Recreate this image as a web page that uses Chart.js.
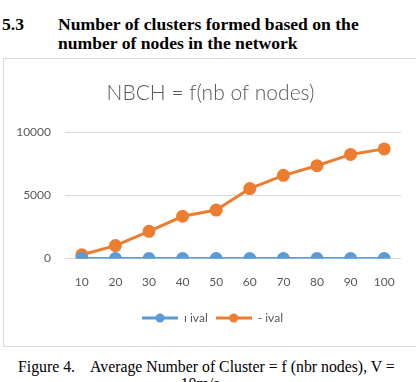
<!DOCTYPE html>
<html>
<head>
<meta charset="utf-8">
<script src="https://cdn.jsdelivr.net/npm/chart.js@4"></script>
<style>
  body { margin: 0; background: #fff; width: 416px; height: 382px; overflow: hidden; position: relative; }
  .hd { position: absolute; font-family: "Liberation Serif", serif; font-weight: bold; font-size: 17.6px; line-height: 19px; }
  #box { position: absolute; left: 3px; top: 58px; width: 420px; height: 287px; border: 1px solid #d9d9d9; }
  .cap { position: absolute; font-family: "Liberation Serif", serif; font-size: 15.8px; line-height: 20px; white-space: nowrap; }
</style>
</head>
<body>
<div class="hd" style="left:2px; top:15px;">5.3</div>
<div class="hd" style="left:58px; top:15px;">Number of clusters formed based on the<br>number of nodes in the network</div>
<div id="box"><canvas id="nbch" width="410" height="287"></canvas></div>
<div class="cap" style="left:18px; top:357px;">Figure 4.</div>
<div class="cap" style="left:90px; top:357px;">Average Number of Cluster = f (nbr nodes), V =</div>
<div class="cap" style="left:0; width:400px; text-align:center; top:374px;">10m/s</div>
<script>
var nodes = ['10', '20', '30', '40', '50', '60', '70', '80', '90', '100'];
var blueValues = [0, 0, 0, 0, 0, 0, 0, 0, 0, 0];
var orangeValues = [300, 1030, 2160, 3350, 3840, 5540, 6590, 7350, 8240, 8680];
var seriesNames = ['ı ival', '- ival'];

// legend symbol: short line with a dot, like Excel
function legendIcon(color) {
    var c = document.createElement('canvas');
    c.width = 36; c.height = 10;
    var g = c.getContext('2d');
    g.strokeStyle = color; g.lineWidth = 3;
    g.beginPath(); g.moveTo(0, 5); g.lineTo(36, 5); g.stroke();
    g.fillStyle = color;
    g.beginPath(); g.arc(18, 5, 4.5, 0, Math.PI * 2); g.fill();
    return c;
}

// nudge title and legend a little to the right, like Excel centres them
var nudge = {
    id: 'nudge',
    afterLayout: function (ch) {
        ch.legend.left += 5; ch.legend.right += 5;
        ch.titleBlock.left += 3; ch.titleBlock.right += 3;
    }
};

var tickFont = { family: 'Lato', size: 12 };

var ctx = document.getElementById('nbch').getContext('2d');
var chart = new Chart(ctx, {
    type: 'line',
    data: {
        labels: nodes,
        datasets: [{
            label: seriesNames[0],
            data: blueValues,
            borderColor: '#5b9bd5',
            backgroundColor: '#5b9bd5',
            borderWidth: 3,
            pointRadius: 5,
            pointHoverRadius: 5
        }, {
            label: seriesNames[1],
            data: orangeValues,
            borderColor: '#ed7d31',
            backgroundColor: '#ed7d31',
            borderWidth: 3,
            pointRadius: 5,
            pointHoverRadius: 5
        }]
    },
    plugins: [nudge],
    options: {
        responsive: false,
        animation: false,
        layout: { padding: { left: 10, right: 13, top: 0, bottom: 12 } },
        plugins: {
            title: {
                display: true,
                text: 'NBCH = f(nb of nodes)',
                color: '#595959',
                font: { family: 'Lato', size: 21, weight: '300' },
                padding: { top: 22, bottom: 26 }
            },
            legend: {
                position: 'bottom',
                labels: {
                    usePointStyle: true,
                    pointStyleWidth: 36,
                    boxHeight: 10,
                    padding: 8,
                    color: '#595959',
                    font: tickFont,
                    generateLabels: function (ch) {
                        return ch.data.datasets.map(function (ds, i) {
                            return {
                                text: ds.label,
                                fontColor: '#595959',
                                pointStyle: legendIcon(ds.borderColor),
                                datasetIndex: i,
                                hidden: false,
                                lineWidth: 0
                            };
                        });
                    }
                }
            },
            tooltip: { enabled: false }
        },
        scales: {
            x: {
                offset: true,
                grid: { display: false },
                border: { display: false },
                afterFit: function (s) { s.height += 7; },
                ticks: { color: '#595959', font: tickFont, padding: 8 }
            },
            y: {
                min: 0,
                max: 10000,
                afterFit: function (s) { s.width = 51; },
                ticks: {
                    stepSize: 5000,
                    color: '#595959',
                    font: tickFont,
                    padding: 14,
                    callback: function (v) { return String(v); }
                },
                grid: { color: '#d9d9d9', drawTicks: false },
                border: { display: false }
            }
        }
    }
});
</script>
</body>
</html>
